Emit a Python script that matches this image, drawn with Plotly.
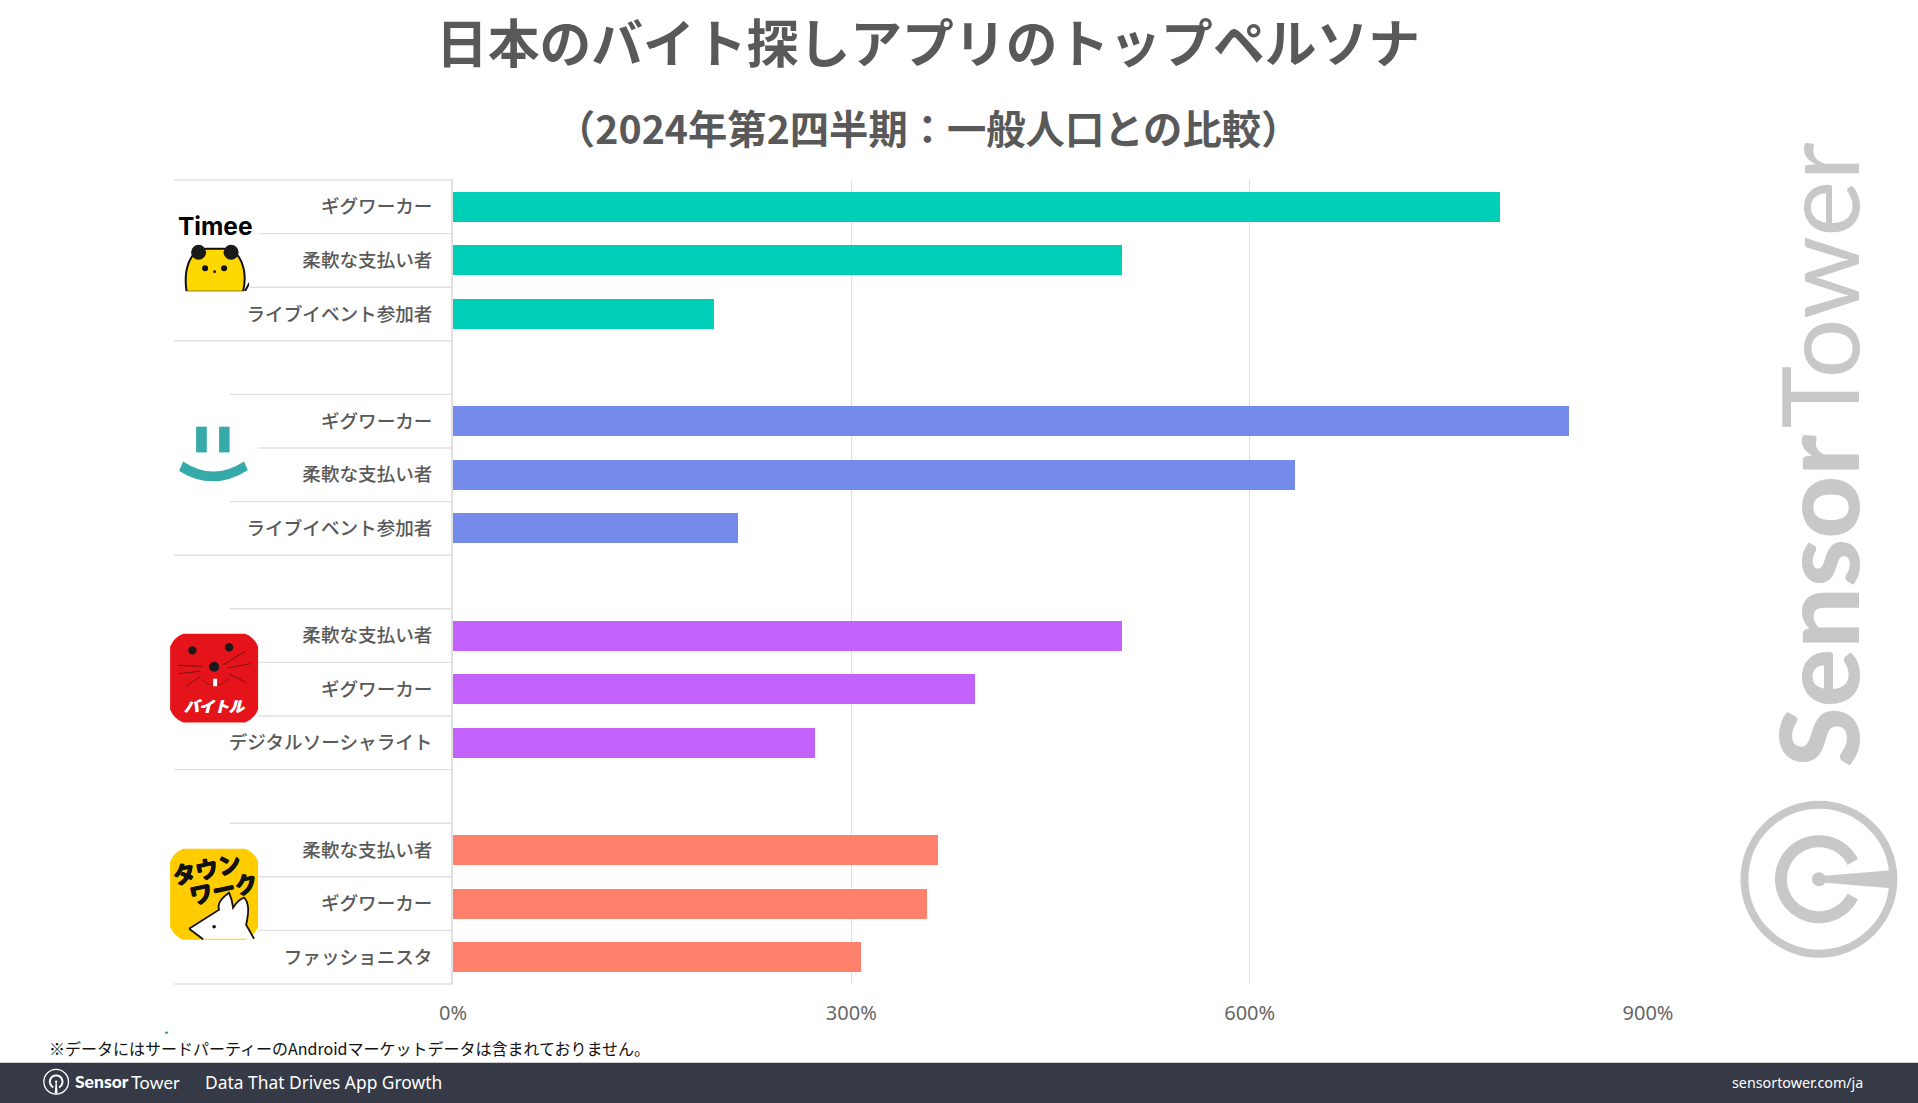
import math
import plotly.graph_objects as go

# ---------- data ----------
RATES_TIMEE = [788.5, 504, 196.5]
RATES_SMILE = [840.5, 634.5, 215]
RATES_BAITORU = [503.5, 393.5, 273]
RATES_TOWNWORK = [365.5, 357, 307]
LABELS_TIMEE = ["ギグワーカー", "柔軟な支払い者", "ライブイベント参加者"]
LABELS_SMILE = ["ギグワーカー", "柔軟な支払い者", "ライブイベント参加者"]
LABELS_BAITORU = ["柔軟な支払い者", "ギグワーカー", "デジタルソーシャライト"]
LABELS_TOWNWORK = ["柔軟な支払い者", "ギグワーカー", "ファッショニスタ"]
COLORS = ["#00CFB8", "#758BEB", "#C463FC", "#FF806B"]
X_TICKS = [0, 300, 600, 900]
X_TICK_LABELS = ["0%", "300%", "600%", "900%"]

W, H = 1918, 1103
L, R, T, B = 453.0, 269.5, 180.3, 118.7
JP = "Noto Sans CJK JP"
BRAND = "Lato"
GRID = "#e0e0e0"


def X(p):
    return (p - L) / (W - L - R)


def Y(p):
    return 1 - (p - T) / (H - T - B)


def path(*segs):
    out = []
    for s in segs:
        cmd, nums = s[0], s[1:]
        coords = []
        for i in range(0, len(nums), 2):
            coords.append(f"{X(nums[i]):.5f},{Y(nums[i + 1]):.5f}")
        out.append(cmd + " ".join(coords))
    return " ".join(out)


def poly(pts):
    return path(("M", *pts[0]), *[("L", *p) for p in pts[1:]], ("Z",))


shapes = []
anns = []


def add_path(d, fill=None, line=None, width=0):
    shapes.append(dict(type="path", xref="paper", yref="paper", path=d,
                       fillcolor=fill or "rgba(0,0,0,0)",
                       line=dict(color=line or "rgba(0,0,0,0)", width=width)))


def add_rect(x0, y0, x1, y1, fill):
    shapes.append(dict(type="rect", xref="paper", yref="paper", x0=X(x0), x1=X(x1),
                       y0=Y(y0), y1=Y(y1), fillcolor=fill, line=dict(width=0)))


def add_circle(cx, cy, rx, fill=None, line=None, width=0, ry=None):
    ry = rx if ry is None else ry
    shapes.append(dict(type="circle", xref="paper", yref="paper", x0=X(cx - rx), x1=X(cx + rx),
                       y0=Y(cy - ry), y1=Y(cy + ry), fillcolor=fill or "rgba(0,0,0,0)",
                       line=dict(color=line or "rgba(0,0,0,0)", width=width)))


def add_seg(x0, y0, x1, y1, color, width=1.0):
    shapes.append(dict(type="line", xref="paper", yref="paper", x0=X(x0), x1=X(x1),
                       y0=Y(y0), y1=Y(y1), line=dict(color=color, width=width)))


def text(t, x, y, size, color, xa="center", ya="middle", family=JP, weight=None, angle=0, style=None, shadow=None):
    f = dict(size=size, color=color, family=family)
    if weight:
        f["weight"] = weight
    if style:
        f["style"] = style
    if shadow:
        f["shadow"] = shadow
    anns.append(dict(text=t, x=X(x), y=Y(y), xref="paper", yref="paper", showarrow=False,
                     xanchor=xa, yanchor=ya, font=f, textangle=angle, borderpad=0, borderwidth=0))


def st_logo(cx, cy, r, rot, color, scale):
    """Sensor Tower mark: ring, open arc and a keyhole stem; rot in degrees (0 = stem to the right)."""
    a = math.radians(rot)

    def rp(dx, dy):
        return (cx + dx * math.cos(a) - dy * math.sin(a), cy + dx * math.sin(a) + dy * math.cos(a))

    add_circle(cx, cy, r - 4 * scale, line=color, width=8 * scale)
    ra = 38 * scale
    pts = [rp(ra * math.cos(math.radians(t)), ra * math.sin(math.radians(t))) for t in range(27, 334, 6)]
    add_path(path(("M", *pts[0]), *[("L", *p) for p in pts[1:]]), line=color, width=12 * scale)
    add_circle(*rp(0, 0), 7 * scale, fill=color)
    add_path(poly([rp(0, -3 * scale), rp(72 * scale, -9 * scale), rp(72 * scale, 9 * scale), rp(0, 3 * scale)]), fill=color)


def chamfer(x0, y0, x1, y1, c, fill):
    k = c * 0.28
    add_path(path(("M", x0 + c, y0), ("L", x1 - c, y0), ("Q", x1 - k, y0 + k, x1, y0 + c), ("L", x1, y1 - c),
                  ("Q", x1 - k, y1 - k, x1 - c, y1), ("L", x0 + c, y1), ("Q", x0 + k, y1 - k, x0, y1 - c),
                  ("L", x0, y0 + c), ("Q", x0 + k, y0 + k, x0 + c, y0), ("Z",)), fill=fill)


# ---------- row rules (start of each rule follows the logo cut-outs) ----------
RULE_STARTS = [174, 259, 250, 174, 230, 258, 230, 174, 230, 258, 258, 174, 230, 258, 258, 174]
for i, xs in enumerate(RULE_STARTS):
    yy = T + i * (H - T - B) / 15
    add_seg(xs, yy, L, yy, GRID, 1.4)

# ---------- Timee logo ----------
text("Timee", 215, 226.5, 24.5, "#000000", family="Inter", weight=700)
add_path(path(("M", 186.5, 292), ("C", 183, 270, 190, 249, 206, 249), ("L", 224, 249),
              ("C", 240, 249, 248, 270, 243, 292), ("Z",)), fill="#FFD800", line="#111111", width=2)
add_rect(184, 291.5, 250, 295, "#ffffff")
add_circle(198.5, 252.5, 7.5, fill="#1a1a1a")
add_circle(231, 252.5, 7.5, fill="#1a1a1a")
add_circle(205, 268.5, 3, fill="#111111")
add_circle(224, 268.5, 3, fill="#111111")
add_circle(214.5, 272, 1.4, fill="#111111")
add_path(poly([(244, 291), (249, 282), (249, 286), (246, 291.5)]), fill="#111111")

# ---------- smile logo ----------
TEAL = "#36A9A9"
add_rect(196, 427, 206.7, 452.7, TEAL)
add_rect(219, 427, 229.5, 452.7, TEAL)
add_path(path(("M", 183, 461.7), ("Q", 213, 481.7, 244, 461.7), ("L", 247.7, 470.5),
              ("Q", 213, 492.4, 179, 471.2), ("Z",)), fill=TEAL)

# ---------- Baitoru logo ----------
chamfer(170, 634, 258, 722.7, 13, "#E5141A")
add_circle(192.3, 650.7, 4.2, fill="#1a1a1a")
add_circle(229, 647.5, 4.2, fill="#1a1a1a")
add_circle(214, 667, 5, fill="#1a1a1a")
for x0, y0, x1, y1 in [(113, 197, 185, 200), (115, 222, 180, 215), (140, 260, 182, 228),
                       (250, 195, 315, 155), (262, 205, 330, 192), (265, 222, 318, 248)]:
    add_seg(140 + x0 / 3, 600 + y0 / 3, 140 + x1 / 3, 600 + y1 / 3, "#7a1015", 1)
add_path(path(("M", 202, 680), ("Q", 215, 692, 229, 679)), line="#9a1015", width=1)
add_rect(213, 679, 217, 686.5, "#ffffff")
text("バイトル", 214, 706, 15, "#ffffff", weight=700, style="italic", shadow="0.6px 0 0 #fff, -0.6px 0 0 #fff")

# ---------- Townwork logo ----------
chamfer(170, 849, 258, 940, 13, "#FFCC00")
ink = "0.7px 0 0 #111, -0.7px 0 0 #111, 0 0.7px 0 #111, 0 -0.7px 0 #111"
text("タウン", 206, 868, 23, "#111111", weight=700, angle=-12, shadow=ink)
text("ワーク", 223, 888.5, 23, "#111111", weight=700, angle=-12, shadow=ink)
rabbit = [("M", 189, 929), ("L", 219, 910), ("Q", 216, 902, 229, 893), ("Q", 232, 900, 233, 908),
          ("Q", 238, 900, 244, 898), ("Q", 251, 905, 246, 925), ("L", 254, 939)]
add_path(path(*rabbit, ("L", 204, 939), ("Z",)), fill="#ffffff")
add_path(path(*rabbit), line="#111111", width=1.8)
add_seg(189, 929, 203, 939.5, "#111111", 1.8)
add_circle(214, 927, 1.8, fill="#111111")

# ---------- watermark ----------
WM = "#C8C8C8"
text("Sensor", 1817, 767, 109, WM, ya="bottom", family=BRAND, weight=900, angle=-90)
text("Tower", 1818, 428, 106, WM, ya="bottom", family=BRAND, weight=400, angle=-90)
st_logo(1819.5, 879.5, 78.5, 0, WM, 1.0)

# ---------- footer ----------
add_rect(-3, 1063, W + 3, H + 3, "#353A46")
st_logo(56, 1082, 13, 90, "#ffffff", 13 / 78.5)
text("Sensor", 75, 1082, 17.5, "#ffffff", xa="left", family=BRAND, weight=900)
text("Tower", 131, 1082, 18, "#ffffff", xa="left", family=BRAND, weight=400)
text("Data That Drives App Growth", 205, 1082, 17.4, "#ffffff", xa="left", family="Noto Sans")
text("sensortower.com/ja", 1863.5, 1083, 14.3, "#ffffff", xa="right", family="Noto Sans")
text("※データにはサードパーティーのAndroidマーケットデータは含まれておりません。", 49, 1048, 16, "#111111", xa="left")
add_rect(165, 1032, 168, 1034, "#1aa9a0")

# ---------- titles ----------
text("（2024年第2四半期：一般人口との比較）", 928, 126.5, 39.3, "#595959", weight=700)

# ---------- bars ----------
groups = [(RATES_TIMEE, LABELS_TIMEE), (RATES_SMILE, LABELS_SMILE),
          (RATES_BAITORU, LABELS_BAITORU), (RATES_TOWNWORK, LABELS_TOWNWORK)]
fig = go.Figure()
tickvals, ticktext = [], []
for g, (vals, labs) in enumerate(groups):
    rows = [g * 4 + k for k in range(len(vals))]
    tickvals += rows
    ticktext += labs
    fig.add_trace(go.Bar(x=vals, y=rows, orientation="h", width=0.56, marker=dict(color=COLORS[g], line=dict(width=0)),
                         showlegend=False, hoverinfo="x+y"))

fig.update_layout(
    width=W, height=H, autosize=False,
    margin=dict(l=L, r=R, t=T, b=B, pad=0),
    paper_bgcolor="#ffffff", plot_bgcolor="#ffffff",
    title=dict(text="日本のバイト探しアプリのトップペルソナ", x=928 / W, y=1 - 45 / H, xanchor="center", yanchor="middle",
               font=dict(family=JP, size=51.8, color="#595959", weight=700)),
    xaxis=dict(range=[0, 900], tickvals=X_TICKS, ticktext=X_TICK_LABELS, showgrid=True, gridcolor=GRID, gridwidth=1.2,
               zeroline=False, showline=False, ticks="", ticklabelstandoff=15,
               tickfont=dict(family="Noto Sans", size=20, color="#666666")),
    yaxis=dict(range=[14.5, -0.5], tickvals=tickvals, ticktext=ticktext, showgrid=False, zeroline=False,
               showline=True, linecolor=GRID, linewidth=1.6, ticks="", ticklabelstandoff=15,
               tickfont=dict(family=JP, size=18.6, color="#595959", weight=500)),
    shapes=shapes, annotations=anns, bargap=0,
)
fig.write_html("out.html", config=dict(displayModeBar=False),
               post_script="document.body.style.margin='0';document.body.style.overflow='hidden';")
